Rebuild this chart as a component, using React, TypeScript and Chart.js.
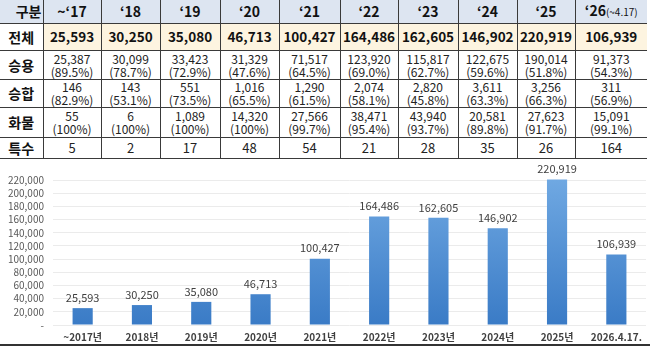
import React, { useEffect, useRef } from "react";
import { Chart, registerables } from "chart.js";
Chart.register(...registerables);

const headerYears = ["~\u201817", "\u201818", "\u201819", "\u201820", "\u201821", "\u201822", "\u201823", "\u201824", "\u201825", "\u201826"];
const totals = [25593, 30250, 35080, 46713, 100427, 164486, 162605, 146902, 220919, 106939];
const passenger = [25387, 30099, 33423, 31329, 71517, 123920, 115817, 122675, 190014, 91373];
const passengerPct = ["89.5%", "78.7%", "72.9%", "47.6%", "64.5%", "69.0%", "62.7%", "59.6%", "51.8%", "54.3%"];
const van = [146, 143, 551, 1016, 1290, 2074, 2820, 3611, 3256, 311];
const vanPct = ["82.9%", "53.1%", "73.5%", "65.5%", "61.5%", "58.1%", "45.8%", "63.3%", "66.3%", "56.9%"];
const truck = [55, 6, 1089, 14320, 27566, 38471, 43940, 20581, 27623, 15091];
const truckPct = ["100%", "100%", "100%", "100%", "99.7%", "95.4%", "93.7%", "89.8%", "91.7%", "99.1%"];
const special = [5, 2, 17, 48, 54, 21, 28, 35, 26, 164];
const chartLabels = ["~2017년", "2018년", "2019년", "2020년", "2021년", "2022년", "2023년", "2024년", "2025년", "2026.4.17."];

const fmt = (n: number) => n.toLocaleString("en-US");
const FONT = "'Noto Sans CJK KR', 'Noto Sans', sans-serif";
const colWidths = [43, 58, 59, 60, 59, 61, 58, 60, 59, 58, 72];
const border = "1px solid #3a3a3a";

function Table() {
  const labelStyle: React.CSSProperties = {
    fontWeight: 700, fontSize: 14, textAlign: "center", border, borderLeft: "none", padding: 0,
    color: "#111",
  };
  const cell: React.CSSProperties = {
    fontSize: 12, textAlign: "center", border, padding: 0, lineHeight: "13px", color: "#222",
  };
  const twoLineRow = (label: string, vals: number[], pcts: string[], h: number) => (
    <tr style={{ height: h }}>
      <td style={labelStyle}>{label}</td>
      {vals.map((v, i) => (
        <td key={i} style={{ ...cell, borderRight: i === 9 ? "none" : border }}>
          <div>{fmt(v)}</div>
          <div>({pcts[i]})</div>
        </td>
      ))}
    </tr>
  );
  return (
    <table style={{ position: "absolute", left: 0, top: 0, width: 647, borderCollapse: "collapse", tableLayout: "fixed", fontFamily: FONT }}>
      <colgroup>
        {colWidths.map((w, i) => <col key={i} style={{ width: w }} />)}
      </colgroup>
      <tbody>
        <tr style={{ height: 23 }}>
          <td style={{ ...labelStyle, background: "#dde5f1", textAlign: "right", borderTop: "none", paddingRight: 1 }}>구분</td>
          {headerYears.map((y, i) => (
            <td key={i} style={{ ...cell, fontSize: 14, fontWeight: 700, background: "#dde5f1", borderTop: "none", borderRight: i === 9 ? "none" : border, color: "#111" }}>
              {y}{i === 9 ? <span style={{ fontSize: 10, fontWeight: 400 }}>(~4.17)</span> : null}
            </td>
          ))}
        </tr>
        <tr style={{ height: 27 }}>
          <td style={labelStyle}>전체</td>
          {totals.map((v, i) => (
            <td key={i} style={{ ...cell, fontSize: 13.5, fontWeight: 700, background: "#fdf4e0", borderRight: i === 9 ? "none" : border, color: "#111" }}>{fmt(v)}</td>
          ))}
        </tr>
        {twoLineRow("승용", passenger, passengerPct, 29)}
        {twoLineRow("승합", van, vanPct, 28)}
        {twoLineRow("화물", truck, truckPct, 30)}
        <tr style={{ height: 21 }}>
          <td style={labelStyle}>특수</td>
          {special.map((v, i) => (
            <td key={i} style={{ ...cell, fontSize: 13, borderRight: i === 9 ? "none" : border }}>{v}</td>
          ))}
        </tr>
      </tbody>
    </table>
  );
}

const labelPlugin = {
  id: "barLabels",
  afterDatasetsDraw(chart: any) {
    const ctx = chart.ctx;
    const meta = chart.getDatasetMeta(0);
    ctx.save();
    ctx.font = `11px ${FONT}`;
    ctx.fillStyle = "#404040";
    ctx.textAlign = "center";
    ctx.textBaseline = "bottom";
    meta.data.forEach((bar: any, i: number) => {
      const v = chart.data.datasets[0].data[i];
      ctx.fillText(fmt(v), bar.x, bar.y - 5);
    });
    ctx.restore();
  },
};

export default function App() {
  const ref = useRef<HTMLCanvasElement>(null);
  useEffect(() => {
    if (!ref.current) return;
    const chart = new Chart(ref.current, {
      type: "bar",
      data: {
        labels: chartLabels,
        datasets: [{
          data: totals,
          backgroundColor: (c: any) => {
            const area = c.chart.chartArea;
            if (!area) return "#4a8ad4";
            const g = c.chart.ctx.createLinearGradient(0, area.top, 0, area.bottom);
            g.addColorStop(0, "#6fa8e2");
            g.addColorStop(1, "#3a7bc6");
            return g;
          },
          barPercentage: 0.34,
          categoryPercentage: 1,
          clip: false as any,
        }],
      },
      options: {
        responsive: false,
        animation: false,
        layout: { padding: { top: 20, right: 4, left: 0, bottom: 1 } },
        plugins: { legend: { display: false }, tooltip: { enabled: false } },
        scales: {
          x: {
            grid: { display: false, drawTicks: false },
            border: { display: false },
            ticks: { color: "#404040", font: { family: FONT, size: 10, weight: "bold" }, padding: 6, maxRotation: 0, autoSkip: false },
          },
          y: {
            min: 0,
            max: 220000,
            afterFit: (s: any) => { s.width = 53; },
            grid: { color: "#ebebeb", drawTicks: false },
            border: { display: false },
            ticks: {
              stepSize: 20000,
              autoSkip: false,
              padding: 9,
              color: "#595959",
              font: { family: FONT, size: 10 },
              callback: (v: any) => (v === 0 ? "-" : fmt(Number(v))),
            },
          },
        },
      },
      plugins: [labelPlugin],
    } as any);
    return () => chart.destroy();
  }, []);
  return (
    <div style={{ position: "absolute", left: 0, top: 0, width: 650, height: 350, background: "#fff", overflow: "hidden" }}>
      <Table />
      <canvas ref={ref} width={650} height={190} style={{ position: "absolute", left: 0, top: 160 }} />
      <div style={{ position: "absolute", left: 0, top: 344, width: 650, height: 2, background: "#333" }} />
    </div>
  );
}
